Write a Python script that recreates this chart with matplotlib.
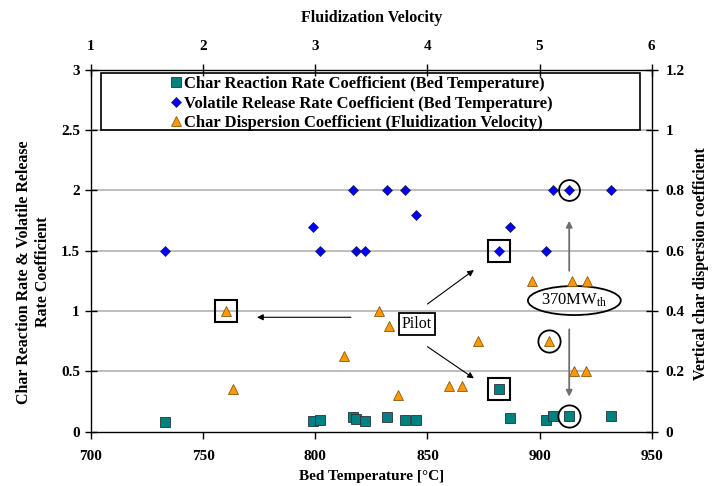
import matplotlib
matplotlib.use('Agg')
import matplotlib.pyplot as plt
from matplotlib.patches import Rectangle, Ellipse
from matplotlib.lines import Line2D
from matplotlib.ticker import FuncFormatter

# ---------------- data ----------------
bed_temp = [733, 799, 802, 817, 818, 822, 832, 840, 845, 882, 887, 903, 906, 913, 932]
char_reaction = [0.075, 0.09, 0.095, 0.118, 0.10, 0.09, 0.118, 0.095, 0.095,
                 0.35, 0.11, 0.095, 0.128, 0.13, 0.128]
volatile_release = [1.5, 1.7, 1.5, 2.0, 1.5, 1.5, 2.0, 2.0, 1.8,
                    1.5, 1.7, 1.5, 2.0, 2.0, 2.0]
fluid_velocity = [2.2, 2.27, 3.26, 3.57, 3.66, 3.74, 4.19, 4.31, 4.45,
                  4.93, 5.08, 5.29, 5.31, 5.42, 5.41]
char_dispersion = [0.40, 0.14, 0.25, 0.40, 0.35, 0.12, 0.15, 0.15, 0.30,
                   0.50, 0.30, 0.50, 0.20, 0.50, 0.20]

bottom_ticks = [700, 750, 800, 850, 900, 950]
top_ticks = [1, 2, 3, 4, 5, 6]
left_ticks = [0, 0.5, 1, 1.5, 2, 2.5, 3]
right_ticks = [0, 0.2, 0.4, 0.6, 0.8, 1.0, 1.2]

legend_labels = ["Char Reaction Rate Coefficient (Bed Temperature)",
                 "Volatile Release Rate Coefficient (Bed Temperature)",
                 "Char Dispersion Coefficient (Fluidization Velocity)"]

# highlighted points (indices)
boxed_temp_idx = 9      # pilot, bed-temperature series
circled_temp_idx = 13   # 370 MWth, bed-temperature series
boxed_vel_idx = 0       # pilot, dispersion series
circled_vel_idx = 10    # 370 MWth, dispersion series

# ---------------- style ----------------
plt.rcParams['font.family'] = ['Liberation Serif', 'DejaVu Serif']
plt.rcParams['font.weight'] = 'bold'
plt.rcParams['mathtext.default'] = 'regular'

fig = plt.figure(figsize=(7.14, 4.86), dpi=100)
pos = [0.1275, 0.1121, 0.7853, 0.7439]
ax = fig.add_axes(pos)
ax2 = fig.add_axes(pos, frameon=False)

TEAL = '#008080'
BLUE = '#0000FF'
ORANGE = '#FF9900'
FS = 11

# primary axes: bed temperature vs coefficients
ax.set_xlim(700, 950)
ax.set_ylim(0, 3)
ax.set_xticks(bottom_ticks)
ax.set_yticks(left_ticks)
ax.yaxis.set_major_formatter(FuncFormatter(lambda v, p: f"{v:g}"))
for y in left_ticks[1:-1]:
    ax.axhline(y, color='#b8b8b8', lw=1.3, zorder=0)
ax.tick_params(axis='y', direction='inout', length=8, width=1, labelsize=FS, pad=4)
ax.tick_params(axis='x', direction='out', length=5, width=1, labelsize=FS, pad=8)
for s in ax.spines.values():
    s.set_linewidth(1.0)
    s.set_color('black')

ax.plot(bed_temp, char_reaction, linestyle='none', marker='s', ms=7.6,
        mfc=TEAL, mec='#303030', mew=0.6, zorder=3)
ax.plot(bed_temp, volatile_release, linestyle='none', marker='D', ms=5.6,
        mfc=BLUE, mec='#202040', mew=0.5, zorder=3)

# secondary axes: fluidization velocity vs dispersion coefficient
ax2.set_xlim(1, 6)
ax2.set_ylim(0, 1.2)
ax2.set_xticks(top_ticks)
ax2.set_yticks(right_ticks)
ax2.yaxis.set_major_formatter(FuncFormatter(lambda v, p: f"{v:g}"))
ax2.xaxis.tick_top()
ax2.yaxis.tick_right()
ax2.tick_params(axis='x', direction='inout', length=8, width=1, labelsize=FS, pad=8)
ax2.tick_params(axis='y', direction='inout', length=8, width=1, labelsize=FS, pad=6)
ax2.plot(fluid_velocity, char_dispersion, linestyle='none', marker='^', ms=7.6,
         mfc=ORANGE, mec='#8a5a10', mew=0.6, zorder=3)

# highlight boxes and circles
ax.plot(bed_temp[boxed_temp_idx], volatile_release[boxed_temp_idx], linestyle='none',
        marker='s', ms=16, mfc='none', mec='black', mew=1.5, zorder=4)
ax.plot(bed_temp[boxed_temp_idx], char_reaction[boxed_temp_idx], linestyle='none',
        marker='s', ms=16, mfc='none', mec='black', mew=1.5, zorder=4)
ax2.plot(fluid_velocity[boxed_vel_idx], char_dispersion[boxed_vel_idx], linestyle='none',
         marker='s', ms=16, mfc='none', mec='black', mew=1.5, zorder=4)
ax.plot(bed_temp[circled_temp_idx], volatile_release[circled_temp_idx], linestyle='none',
        marker='o', ms=15, mfc='none', mec='black', mew=1.3, zorder=4)
ax.plot(bed_temp[circled_temp_idx], char_reaction[circled_temp_idx], linestyle='none',
        marker='o', ms=16, mfc='none', mec='black', mew=1.3, zorder=4)
ax2.plot(fluid_velocity[circled_vel_idx], char_dispersion[circled_vel_idx], linestyle='none',
         marker='o', ms=16, mfc='none', mec='black', mew=1.3, zorder=4)

# Pilot annotation
ax.text(845.4, 0.892, 'Pilot', fontsize=11.5, fontweight='normal', ha='center', va='center',
        bbox=dict(boxstyle='square,pad=0.2', fc='white', ec='black', lw=1.3), zorder=5)
arr = dict(arrowstyle='-|>', color='black', lw=0.8, mutation_scale=9, shrinkA=0, shrinkB=0)
ax.annotate('', xy=(774.0, 0.948), xytext=(815.9, 0.948), arrowprops=arr)
ax.annotate('', xy=(870.7, 1.34), xytext=(850.0, 1.058), arrowprops=arr)
ax.annotate('', xy=(870.7, 0.441), xytext=(850.0, 0.704), arrowprops=arr)

# 370 MWth annotation
ax.add_patch(Ellipse((915.5, 1.087), 41.4, 0.241, fill=False, ec='black', lw=1.3, zorder=5))
ax.text(915.5, 1.087, r'370MW$_{th}$', fontsize=12, fontweight='normal',
        ha='center', va='center', zorder=5)
garr = dict(arrowstyle='-|>', color='#707070', lw=1.3, mutation_scale=9, shrinkA=0, shrinkB=0)
ax.annotate('', xy=(913.2, 1.749), xytext=(913.2, 1.334), arrowprops=garr)
ax.annotate('', xy=(913.2, 0.289), xytext=(913.2, 0.848), arrowprops=garr)

# legend with separate frame
ax.add_patch(Rectangle((0.018, 2.5 / 3), 0.961, 0.158, transform=ax.transAxes,
                       fill=False, ec='black', lw=1.2, zorder=5))
handles = [Line2D([], [], linestyle='none', marker='s', ms=7.6, mfc=TEAL, mec='#303030', mew=0.6),
           Line2D([], [], linestyle='none', marker='D', ms=5.6, mfc=BLUE, mec='#202040', mew=0.5),
           Line2D([], [], linestyle='none', marker='^', ms=7.6, mfc=ORANGE, mec='#8a5a10', mew=0.6)]
LFS = 12
fig.legend(handles, legend_labels, loc='upper left', bbox_to_anchor=(171.8 / 714, 1 - 76 / 486),
           frameon=False, borderpad=0, borderaxespad=0, handlelength=0.5,
           handletextpad=0.23, labelspacing=0.22, prop={'weight': 'bold', 'size': LFS})

# axis titles
fig.text(371.5 / 714, 1 - 18 / 486, 'Fluidization Velocity', fontsize=11.5, ha='center', va='center')
fig.text(371.5 / 714, 1 - 476 / 486, 'Bed Temperature [°C]', fontsize=FS, ha='center', va='center')
fig.text(33.5 / 714, 1 - 272 / 486, 'Char Reaction Rate & Volatile Release\nRate Coefficient',
         fontsize=11.5, ha='center', va='center', rotation=90, multialignment='center',
         linespacing=1.3)
fig.text(701 / 714, 1 - 264 / 486, 'Vertical char dispersion coefficient', fontsize=11.3,
         ha='center', va='center', rotation=90)

fig.savefig('out.png', dpi=100)
